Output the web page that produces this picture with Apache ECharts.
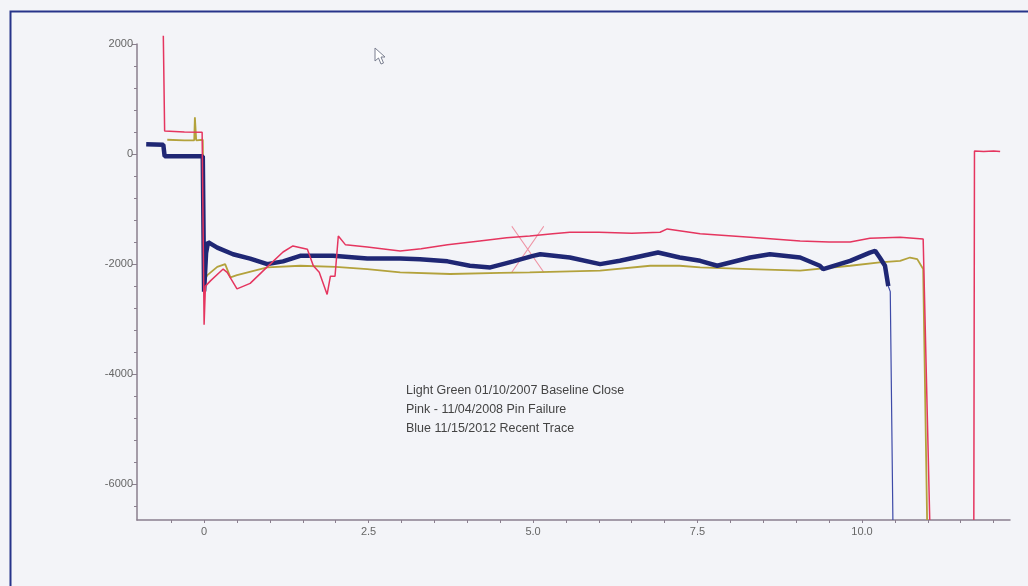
<!DOCTYPE html>
<html>
<head>
<meta charset="utf-8">
<script src="https://cdn.jsdelivr.net/npm/echarts@6/dist/echarts.min.js"></script>
<style>
  html, body { margin: 0; padding: 0; background: #f3f4f8; }
  #chart { width: 1028px; height: 586px; }
</style>
</head>
<body>
<div id="chart"></div>
<script>
// traces: [time, value]
const pinkTrace = [
  [-0.62, 2150], [-0.60, 420], [-0.30, 400], [-0.03, 395], [0.00, -3100], [0.02, -2400],
  [0.10, -2300], [0.29, -2090], [0.35, -2150], [0.50, -2450], [0.70, -2350], [0.96, -2050],
  [1.20, -1780], [1.35, -1670], [1.57, -1730], [1.66, -2030], [1.75, -2150], [1.87, -2550],
  [1.92, -2220], [1.99, -2220], [2.04, -1490], [2.15, -1650], [2.48, -1690], [2.98, -1760],
  [3.30, -1720], [3.70, -1650], [4.19, -1580], [4.60, -1520], [4.95, -1490], [5.30, -1450],
  [5.56, -1420], [6.00, -1420], [6.50, -1440], [6.93, -1420], [7.04, -1360], [7.54, -1450],
  [8.30, -1510], [9.06, -1580], [9.50, -1600], [9.82, -1600], [10.12, -1530], [10.58, -1510],
  [10.93, -1545], [11.03, -6650], [11.30, null],
  [11.70, -6650], [11.71, 55], [11.85, 45], [12.00, 55], [12.10, 45]
];
const oliveTrace = [
  [-0.56, 260], [-0.30, 250], [-0.15, 250], [-0.14, 670], [-0.12, 250], [-0.02, 260],
  [0.00, -2300], [0.05, -2200], [0.20, -2050], [0.32, -2000], [0.40, -2240], [0.50, -2200],
  [0.96, -2060], [1.46, -2030], [2.00, -2050], [2.48, -2090], [2.98, -2150], [3.74, -2180],
  [4.50, -2160], [4.95, -2150], [6.02, -2120], [6.78, -2030], [7.23, -2030], [7.54, -2060],
  [8.30, -2090], [9.06, -2120], [9.82, -2030], [10.27, -1970], [10.58, -1940], [10.73, -1880],
  [10.84, -1910], [10.93, -2090], [10.99, -6650]
];
const blueTrace = [
  [-0.88, 180], [-0.62, 170], [-0.60, -40], [-0.02, -40], [0.00, -2500], [0.03, -1800],
  [0.06, -1600], [0.20, -1700], [0.44, -1820], [0.70, -1900], [0.96, -2000], [1.20, -1950],
  [1.46, -1850], [1.96, -1850], [2.48, -1900], [2.98, -1900], [3.28, -1910], [3.70, -1950],
  [4.04, -2030], [4.35, -2060], [4.70, -1950], [5.00, -1850], [5.11, -1820], [5.56, -1880],
  [6.02, -2000], [6.32, -1940], [6.90, -1790], [7.23, -1880], [7.54, -1940], [7.80, -2030],
  [8.30, -1880], [8.60, -1820], [9.06, -1880], [9.36, -2030], [9.41, -2090], [9.82, -1940],
  [10.12, -1790], [10.20, -1760], [10.27, -1880], [10.35, -2030], [10.40, -2400]
];
const blueTail = [[10.40, -2400], [10.43, -2500], [10.47, -6650]];
const crossMark = [[4.92, -1730]];

const yLabels = [-6000, -4000, -2000, 0, 2000];
const yMinorTicks = [-6400, -5600, -5200, -4800, -4400, -3600, -3200, -2800, -2400,
  -1600, -1200, -800, -400, 400, 800, 1200, 1600];
const xLabels = [0, 2.5, 5, 7.5, 10];
const xTicks = [-0.5, 0, 0.5, 1, 1.5, 2, 2.5, 3, 3.5, 4, 4.5, 5, 5.5, 6, 6.5, 7, 7.5, 8,
  8.5, 9, 9.5, 10, 10.5, 11, 11.5, 12];
const notes = [
  "Light Green 01/10/2007 Baseline Close",
  "Pink - 11/04/2008 Pin Failure",
  "Blue 11/15/2012 Recent Trace"
];

const axisColor = "#8a7f8e";
const chart = echarts.init(document.getElementById("chart"));

const yBase = {
  type: "value", min: -6650, max: 2000, position: "left",
  splitLine: { show: false }
};

chart.setOption({
  backgroundColor: "#f3f4f8",
  animation: false,
  grid: { left: 137, right: 18, top: 44, bottom: 66 },
  xAxis: {
    type: "value", min: -1.02, max: 12.25,
    axisLine: { onZero: false, lineStyle: { color: axisColor, width: 1.5 } },
    axisTick: { customValues: xTicks, length: 3, lineStyle: { color: axisColor } },
    axisLabel: {
      customValues: xLabels, color: "#666", fontSize: 11, margin: 6,
      fontFamily: "Liberation Sans",
      formatter: v => (v === 0 ? "0" : v.toFixed(1))
    },
    splitLine: { show: false }
  },
  yAxis: [
    Object.assign({}, yBase, {
      axisLine: { show: true, onZero: false, lineStyle: { color: axisColor, width: 1.5 } },
      axisTick: { customValues: yLabels, length: 5, lineStyle: { color: axisColor } },
      axisLabel: { customValues: yLabels, color: "#666", fontSize: 11, margin: 4,
        fontFamily: "Liberation Sans", formatter: v => String(v) }
    }),
    Object.assign({}, yBase, {
      axisLine: { show: false, onZero: false },
      axisTick: { show: true, customValues: yMinorTicks, length: 3,
        lineStyle: { color: axisColor } },
      axisLabel: { show: false }
    })
  ],
  series: [
    {
      name: "olive", type: "line", data: oliveTrace, symbol: "none", clip: false,
      lineStyle: { color: "#b3a23c", width: 1.8 }
    },
    {
      name: "blue", type: "line", data: blueTrace, symbol: "none", clip: false,
      lineStyle: { color: "#1f2774", width: 4.5 }
    },
    {
      name: "blueTail", type: "line", data: blueTail, symbol: "none", clip: false,
      lineStyle: { color: "#3d4aa8", width: 1.2 }
    },
    {
      name: "pink", type: "line", data: pinkTrace, symbol: "none", clip: false,
      connectNulls: false,
      lineStyle: { color: "#e5355f", width: 1.5 }
    },
    {
      name: "cross", type: "scatter", data: crossMark, silent: true,
      symbol: "path://M0 0L32 46M32 0L0 46", symbolSize: [32, 46],
      itemStyle: { color: "transparent", borderColor: "#ee7a8e", borderWidth: 1 }
    }
  ],
  graphic: [
    {
      type: "rect", left: 8, top: 9, silent: true,
      shape: { width: 1040, height: 600 },
      style: { fill: "none", stroke: "#27348a", lineWidth: 2 }
    },
    {
      type: "polygon", silent: true,
      shape: { points: [[375, 48], [375, 61], [378.5, 58], [381, 64], [383.5, 63], [381, 57], [385, 57]] },
      style: { fill: "#ffffff", stroke: "#7a7f90", lineWidth: 1 }
    }
  ].concat(notes.map((t, i) => ({
    type: "text", left: 406, top: 384 + i * 19, silent: true,
    style: { text: t, fill: "#444", font: "12.5px 'Liberation Sans'" }
  })))
});
</script>
</body>
</html>
